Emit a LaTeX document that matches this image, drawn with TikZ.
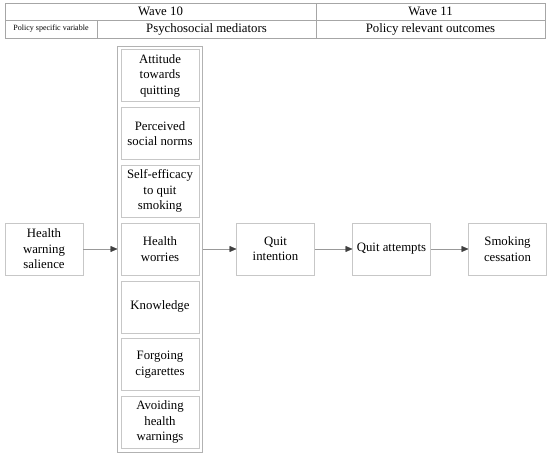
\documentclass[tikz,border=0pt]{standalone}
\usepackage{fontspec}
\setmainfont{Liberation Serif}
\usepackage{tikz}
\usetikzlibrary{arrows.meta, positioning, fit}

\begin{document}
\begin{tikzpicture}[
    x=1pt, y=1pt,
    every node/.style={font=\fontsize{12.8}{15.5}\selectfont},
    block/.style={draw=black!22, minimum height=52pt, minimum width=78pt, align=center, inner sep=1pt, outer sep=0pt},
    cell/.style={draw=black!35, inner sep=0pt, outer sep=0pt, anchor=north west},
    arrow/.style={-{Triangle[length=7pt, width=6pt, color=black!75]}, draw=black!40, thin}
]
    \useasboundingbox (0,0) rectangle (550,-457);

    % Header table
    \node[cell, minimum width=311pt, minimum height=17pt] (w10) at (5,-3) {Wave 10};
    \node[cell, minimum width=229pt, minimum height=17pt, right=0pt of w10] (w11) {Wave 11};
    \node[cell, minimum width=92pt, minimum height=18pt, font=\fontsize{8}{9}\selectfont] (psv) at (w10.south west) {Policy specific variable};
    \node[cell, minimum width=219pt, minimum height=18pt, right=0pt of psv] (psm) {Psychosocial mediators};
    \node[cell, minimum width=229pt, minimum height=18pt, right=0pt of psm] (pro) {Policy relevant outcomes};

    % Exposure
    \node[block, anchor=west] (hws) at (5,-249) {Health\\warning\\salience};

    % Mediators column
    \node[block, right=38pt of hws] (worry) {Health\\worries};
    \node[block, above=5.8pt of worry] (eff) {Self-efficacy\\to quit\\smoking};
    \node[block, above=5.8pt of eff] (norm) {Perceived\\social norms};
    \node[block, above=5.8pt of norm] (att) {Attitude\\towards\\quitting};
    \node[block, below=5.8pt of worry] (know) {Knowledge};
    \node[block, below=5.8pt of know] (forgo) {Forgoing\\cigarettes};
    \node[block, below=5.8pt of forgo] (avoid) {Avoiding\\health\\warnings};
    \node[draw=black!30, inner sep=3.5pt, outer sep=0pt, fit=(att) (avoid)] (med) {};

    % Outcomes
    \node[block, right=34pt of med] (qi) {Quit\\intention};
    \node[block, right=38pt of qi] (qa) {Quit attempts};
    \node[block, right=38pt of qa] (sc) {Smoking\\cessation};

    \draw[arrow] (hws) -- (med.west |- hws);
    \draw[arrow] (med.east |- qi) -- (qi);
    \draw[arrow] (qi) -- (qa);
    \draw[arrow] (qa) -- (sc);

\end{tikzpicture}
\end{document}
